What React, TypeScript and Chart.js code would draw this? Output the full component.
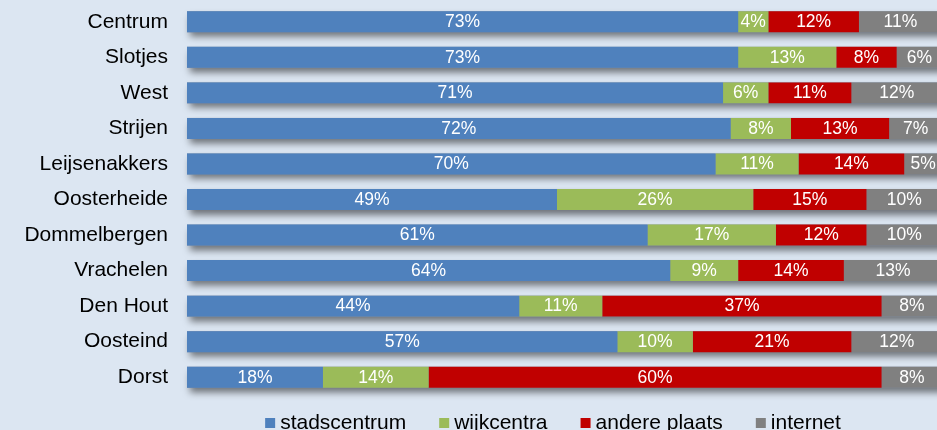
import React, { useEffect, useRef } from "react";
import { Chart, registerables } from "chart.js";

Chart.register(...registerables);

// ---- data ----
const categories = [
  "Centrum",
  "Slotjes",
  "West",
  "Strijen",
  "Leijsenakkers",
  "Oosterheide",
  "Dommelbergen",
  "Vrachelen",
  "Den Hout",
  "Oosteind",
  "Dorst",
];
const seriesNames = ["stadscentrum", "wijkcentra", "andere plaats", "internet"];
const stadscentrum = [73, 73, 71, 72, 70, 49, 61, 64, 44, 57, 18];
const wijkcentra = [4, 13, 6, 8, 11, 26, 17, 9, 11, 10, 14];
const anderePlaats = [12, 8, 11, 13, 14, 15, 12, 14, 37, 21, 60];
const internet = [11, 6, 12, 7, 5, 10, 10, 13, 8, 12, 8];

// ---- styles / layout ----
const seriesColors = ["#4f81bd", "#9bbb59", "#c00000", "#808080"];
const BG = "#dce6f2";
const FONT = "'Liberation Sans', Arial, sans-serif";
const CANVAS_W = 942;
const CANVAS_H = 440;
const AXIS_W = 187;
const LEGEND_CENTER_X = 553;
const LEGEND_BASELINE = 429;

const shadowPlugin = {
  id: "barShadow",
  beforeDatasetsDraw(chart: any) {
    const meta0 = chart.getDatasetMeta(0);
    const xs = chart.scales.x;
    const ctx = chart.ctx;
    ctx.save();
    ctx.shadowColor = "rgba(0,0,0,0.5)";
    ctx.shadowBlur = 7;
    ctx.shadowOffsetX = 3;
    ctx.shadowOffsetY = 5;
    ctx.fillStyle = "#7d8ea5";
    meta0.data.forEach((el: any, i: number) => {
      const total = chart.data.datasets.reduce(
        (s: number, d: any) => s + (d.data[i] as number),
        0
      );
      const { y, height } = el.getProps(["y", "height"], true);
      const x0 = xs.getPixelForValue(0);
      const x1 = xs.getPixelForValue(total);
      ctx.fillRect(x0, y - height / 2, x1 - x0, height);
    });
    ctx.restore();
  },
};

const valueLabelPlugin = {
  id: "valueLabels",
  afterDatasetsDraw(chart: any) {
    const ctx = chart.ctx;
    ctx.save();
    ctx.font = `17.5px ${FONT}`;
    ctx.fillStyle = "#ffffff";
    ctx.textAlign = "center";
    ctx.textBaseline = "middle";
    chart.data.datasets.forEach((ds: any, di: number) => {
      const meta = chart.getDatasetMeta(di);
      meta.data.forEach((el: any, i: number) => {
        const { x, y, base } = el.getProps(["x", "y", "base"], true);
        ctx.fillText(`${ds.data[i]}%`, (x + base) / 2, y + 0.5);
      });
    });
    ctx.restore();
  },
};

const legendPlugin = {
  id: "customLegend",
  afterDraw(chart: any) {
    const ctx = chart.ctx;
    ctx.save();
    ctx.font = `21px ${FONT}`;
    ctx.textBaseline = "alphabetic";
    ctx.textAlign = "left";
    const box = 10;
    const boxGap = 5;
    const itemGap = 33;
    const items = chart.data.datasets.map((ds: any) => ({
      label: ds.label as string,
      color: ds.backgroundColor as string,
      w: ctx.measureText(ds.label).width,
    }));
    const total =
      items.reduce((s: number, it: any) => s + box + boxGap + it.w, 0) +
      itemGap * (items.length - 1);
    let x = LEGEND_CENTER_X - total / 2;
    items.forEach((it: any) => {
      ctx.fillStyle = it.color;
      ctx.fillRect(x, LEGEND_BASELINE - 11, box, box);
      ctx.fillStyle = "#000000";
      ctx.fillText(it.label, x + box + boxGap, LEGEND_BASELINE);
      x += box + boxGap + it.w + itemGap;
    });
    ctx.restore();
  },
};

export default function App() {
  const canvasRef = useRef<HTMLCanvasElement | null>(null);

  useEffect(() => {
    if (!canvasRef.current) return;
    const values = [stadscentrum, wijkcentra, anderePlaats, internet];
    const chart = new Chart(canvasRef.current, {
      type: "bar",
      data: {
        labels: categories,
        datasets: seriesNames.map((name, i) => ({
          label: name,
          data: values[i],
          backgroundColor: seriesColors[i],
          borderWidth: 0,
          barPercentage: 0.59,
          categoryPercentage: 1,
        })),
      },
      options: {
        indexAxis: "y",
        responsive: false,
        animation: false,
        devicePixelRatio: 1,
        layout: { padding: { left: 0, right: 0, top: 4, bottom: CANVAS_H - 395 } },
        plugins: {
          legend: { display: false },
          tooltip: { enabled: false },
        },
        scales: {
          x: {
            display: false,
            stacked: true,
            min: 0,
            max: 100,
          },
          y: {
            stacked: true,
            grid: { display: false, drawTicks: false },
            border: { display: false },
            ticks: {
              color: "#000000",
              padding: 19,
              font: { family: FONT, size: 21 },
            },
            afterFit: (scale: any) => {
              scale.width = AXIS_W;
              scale.paddingTop = 0;
              scale.paddingBottom = 0;
            },
          },
        },
      },
      plugins: [shadowPlugin, valueLabelPlugin, legendPlugin],
    });
    return () => chart.destroy();
  }, []);

  return (
    <div
      style={{
        position: "fixed",
        left: 0,
        top: 0,
        width: 937,
        height: 430,
        overflow: "hidden",
        background: BG,
      }}
    >
      <canvas
        ref={canvasRef}
        width={CANVAS_W}
        height={CANVAS_H}
        style={{ display: "block", width: CANVAS_W, height: CANVAS_H }}
      />
    </div>
  );
}
